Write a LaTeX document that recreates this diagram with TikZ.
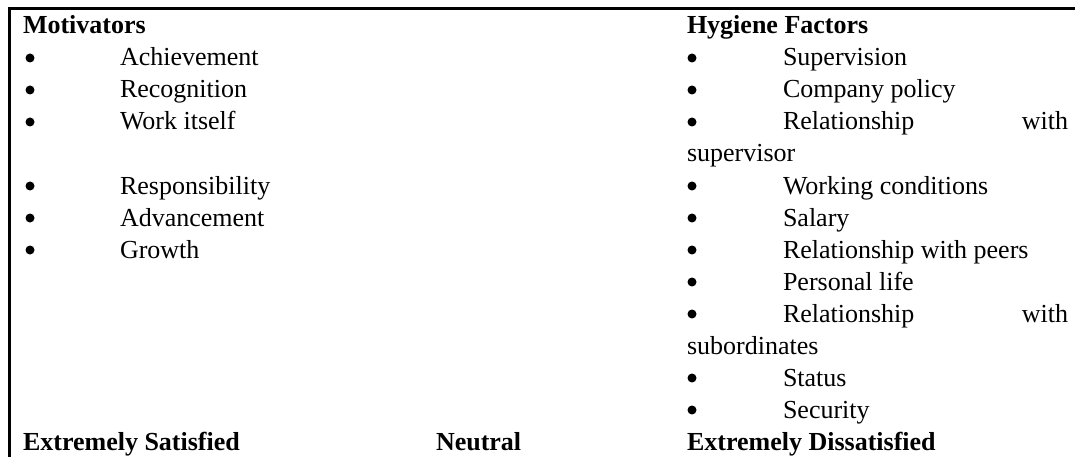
\documentclass[tikz,border=0pt]{standalone}
\usepackage{fontspec}
\setmainfont{Liberation Serif}
\begin{document}
\begin{tikzpicture}[x=1pt,y=-1pt,
  txt/.style={inner sep=0pt,outer sep=0pt,anchor=base west,font=\fontsize{26}{32}\selectfont},
  txtr/.style={txt,anchor=base east},
  head/.style={txt,font=\fontsize{26}{32}\selectfont\bfseries},
  bul/.style={circle,fill=black,inner sep=0pt,minimum size=9pt}]
\useasboundingbox (0,0) rectangle (1075,457);
\draw[line width=2.4pt] (1075,8.5) -- (9.5,8.5) -- (9.5,457);
% left column
\node[head] (mot) at (23,34) {Motivators};
\foreach \y/\t/\n in {66/Achievement/a1,98/Recognition/a2,130/Work itself/a3,194/Responsibility/a4,226/Advancement/a5,258/Growth/a6}{
  \node[bul] (b\n) at (30,\y-8) {};
  \node[txt] (\n) at (120,\y) {\t};
}
% right column
\node[head] (hyg) at (687,34) {Hygiene Factors};
\foreach \y/\n in {66/h1,98/h2,130/h3,194/h4,226/h5,258/h6,290/h7,322/h8,386/h9,418/h10}{
  \node[bul] (b\n) at (692,\y-8) {};
}
\node[txt] (h1) at (783,66) {Supervision};
\node[txt] (h2) at (783,98) {Company policy};
\node[txt] (h3) at (783,130) {Relationship};
\node[txtr] (h3w) at (1068,130) {with};
\node[txt] (h3b) at (687,162) {supervisor};
\node[txt] (h4) at (783,194) {Working conditions};
\node[txt] (h5) at (783,226) {Salary};
\node[txt] (h6) at (783,258) {Relationship with peers};
\node[txt] (h7) at (783,290) {Personal life};
\node[txt] (h8) at (783,322) {Relationship};
\node[txtr] (h8w) at (1068,322) {with};
\node[txt] (h8b) at (687,354) {subordinates};
\node[txt] (h9) at (783,386) {Status};
\node[txt] (h10) at (783,418) {Security};
% bottom scale
\node[head] (es) at (23,450) {Extremely Satisfied};
\node[head] (neu) at (436,450) {Neutral};
\node[head] (ed) at (687,450) {Extremely Dissatisfied};
\end{tikzpicture}
\end{document}
